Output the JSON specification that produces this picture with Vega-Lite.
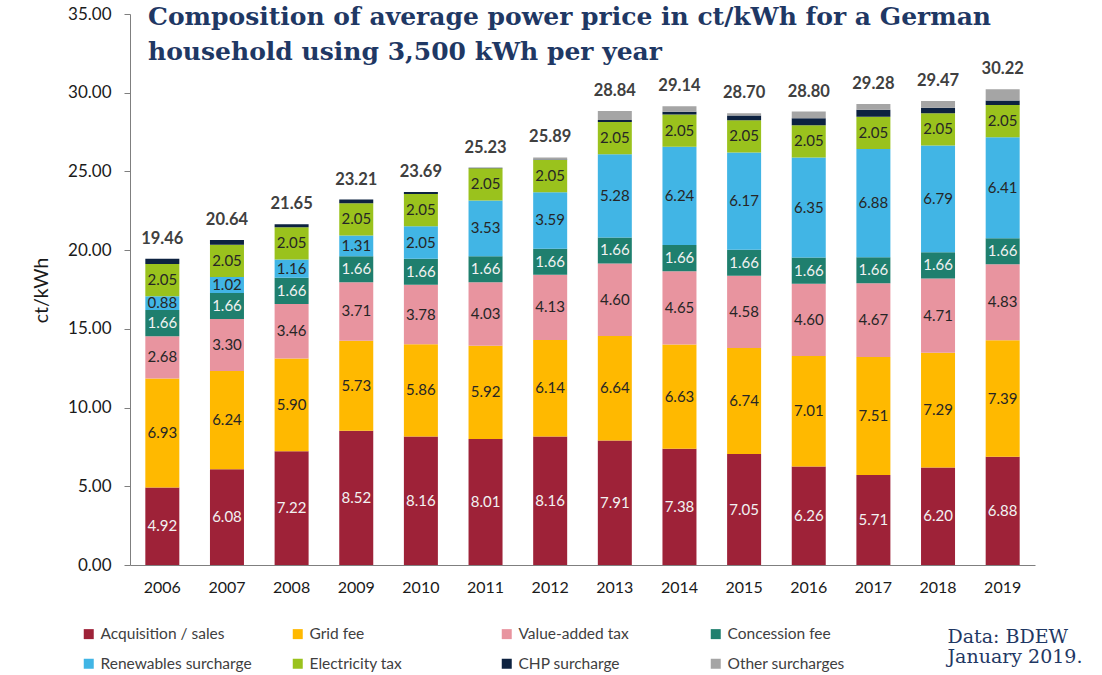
{
  "$schema": "https://vega.github.io/schema/vega-lite/v6.json",
  "width": 905,
  "height": 551,
  "autosize": {"type": "none"},
  "padding": {"left": 130, "top": 14, "right": 67, "bottom": 110},
  "background": "white",
  "config": {"view": {"stroke": null}},
  "title": {
    "text": ["Composition of average power price in ct/kWh for a German", "household using 3,500 kWh per year"],
    "anchor": "start",
    "frame": "group",
    "font": "DejaVu Serif",
    "fontSize": 25,
    "fontWeight": "bold",
    "color": "#1f3864",
    "lineHeight": 35,
    "baseline": "top",
    "offset": 0,
    "dx": 18,
    "dy": 60
  },
  "datasets": {
    "prices": [
      {"year": "2006", "category": "Acquisition / sales", "value": 4.92},
      {"year": "2006", "category": "Grid fee", "value": 6.93},
      {"year": "2006", "category": "Value-added tax", "value": 2.68},
      {"year": "2006", "category": "Concession fee", "value": 1.66},
      {"year": "2006", "category": "Renewables surcharge", "value": 0.88},
      {"year": "2006", "category": "Electricity tax", "value": 2.05},
      {"year": "2006", "category": "CHP surcharge", "value": 0.34},
      {"year": "2006", "category": "Other surcharges", "value": 0},
      {"year": "2007", "category": "Acquisition / sales", "value": 6.08},
      {"year": "2007", "category": "Grid fee", "value": 6.24},
      {"year": "2007", "category": "Value-added tax", "value": 3.30},
      {"year": "2007", "category": "Concession fee", "value": 1.66},
      {"year": "2007", "category": "Renewables surcharge", "value": 1.02},
      {"year": "2007", "category": "Electricity tax", "value": 2.05},
      {"year": "2007", "category": "CHP surcharge", "value": 0.29},
      {"year": "2007", "category": "Other surcharges", "value": 0},
      {"year": "2008", "category": "Acquisition / sales", "value": 7.22},
      {"year": "2008", "category": "Grid fee", "value": 5.90},
      {"year": "2008", "category": "Value-added tax", "value": 3.46},
      {"year": "2008", "category": "Concession fee", "value": 1.66},
      {"year": "2008", "category": "Renewables surcharge", "value": 1.16},
      {"year": "2008", "category": "Electricity tax", "value": 2.05},
      {"year": "2008", "category": "CHP surcharge", "value": 0.20},
      {"year": "2008", "category": "Other surcharges", "value": 0},
      {"year": "2009", "category": "Acquisition / sales", "value": 8.52},
      {"year": "2009", "category": "Grid fee", "value": 5.73},
      {"year": "2009", "category": "Value-added tax", "value": 3.71},
      {"year": "2009", "category": "Concession fee", "value": 1.66},
      {"year": "2009", "category": "Renewables surcharge", "value": 1.31},
      {"year": "2009", "category": "Electricity tax", "value": 2.05},
      {"year": "2009", "category": "CHP surcharge", "value": 0.23},
      {"year": "2009", "category": "Other surcharges", "value": 0},
      {"year": "2010", "category": "Acquisition / sales", "value": 8.16},
      {"year": "2010", "category": "Grid fee", "value": 5.86},
      {"year": "2010", "category": "Value-added tax", "value": 3.78},
      {"year": "2010", "category": "Concession fee", "value": 1.66},
      {"year": "2010", "category": "Renewables surcharge", "value": 2.05},
      {"year": "2010", "category": "Electricity tax", "value": 2.05},
      {"year": "2010", "category": "CHP surcharge", "value": 0.13},
      {"year": "2010", "category": "Other surcharges", "value": 0},
      {"year": "2011", "category": "Acquisition / sales", "value": 8.01},
      {"year": "2011", "category": "Grid fee", "value": 5.92},
      {"year": "2011", "category": "Value-added tax", "value": 4.03},
      {"year": "2011", "category": "Concession fee", "value": 1.66},
      {"year": "2011", "category": "Renewables surcharge", "value": 3.53},
      {"year": "2011", "category": "Electricity tax", "value": 2.05},
      {"year": "2011", "category": "CHP surcharge", "value": 0.03},
      {"year": "2011", "category": "Other surcharges", "value": 0},
      {"year": "2012", "category": "Acquisition / sales", "value": 8.16},
      {"year": "2012", "category": "Grid fee", "value": 6.14},
      {"year": "2012", "category": "Value-added tax", "value": 4.13},
      {"year": "2012", "category": "Concession fee", "value": 1.66},
      {"year": "2012", "category": "Renewables surcharge", "value": 3.59},
      {"year": "2012", "category": "Electricity tax", "value": 2.05},
      {"year": "2012", "category": "CHP surcharge", "value": 0.02},
      {"year": "2012", "category": "Other surcharges", "value": 0.14},
      {"year": "2013", "category": "Acquisition / sales", "value": 7.91},
      {"year": "2013", "category": "Grid fee", "value": 6.64},
      {"year": "2013", "category": "Value-added tax", "value": 4.60},
      {"year": "2013", "category": "Concession fee", "value": 1.66},
      {"year": "2013", "category": "Renewables surcharge", "value": 5.28},
      {"year": "2013", "category": "Electricity tax", "value": 2.05},
      {"year": "2013", "category": "CHP surcharge", "value": 0.13},
      {"year": "2013", "category": "Other surcharges", "value": 0.57},
      {"year": "2014", "category": "Acquisition / sales", "value": 7.38},
      {"year": "2014", "category": "Grid fee", "value": 6.63},
      {"year": "2014", "category": "Value-added tax", "value": 4.65},
      {"year": "2014", "category": "Concession fee", "value": 1.66},
      {"year": "2014", "category": "Renewables surcharge", "value": 6.24},
      {"year": "2014", "category": "Electricity tax", "value": 2.05},
      {"year": "2014", "category": "CHP surcharge", "value": 0.18},
      {"year": "2014", "category": "Other surcharges", "value": 0.35},
      {"year": "2015", "category": "Acquisition / sales", "value": 7.05},
      {"year": "2015", "category": "Grid fee", "value": 6.74},
      {"year": "2015", "category": "Value-added tax", "value": 4.58},
      {"year": "2015", "category": "Concession fee", "value": 1.66},
      {"year": "2015", "category": "Renewables surcharge", "value": 6.17},
      {"year": "2015", "category": "Electricity tax", "value": 2.05},
      {"year": "2015", "category": "CHP surcharge", "value": 0.30},
      {"year": "2015", "category": "Other surcharges", "value": 0.15},
      {"year": "2016", "category": "Acquisition / sales", "value": 6.26},
      {"year": "2016", "category": "Grid fee", "value": 7.01},
      {"year": "2016", "category": "Value-added tax", "value": 4.60},
      {"year": "2016", "category": "Concession fee", "value": 1.66},
      {"year": "2016", "category": "Renewables surcharge", "value": 6.35},
      {"year": "2016", "category": "Electricity tax", "value": 2.05},
      {"year": "2016", "category": "CHP surcharge", "value": 0.45},
      {"year": "2016", "category": "Other surcharges", "value": 0.42},
      {"year": "2017", "category": "Acquisition / sales", "value": 5.71},
      {"year": "2017", "category": "Grid fee", "value": 7.51},
      {"year": "2017", "category": "Value-added tax", "value": 4.67},
      {"year": "2017", "category": "Concession fee", "value": 1.66},
      {"year": "2017", "category": "Renewables surcharge", "value": 6.88},
      {"year": "2017", "category": "Electricity tax", "value": 2.05},
      {"year": "2017", "category": "CHP surcharge", "value": 0.44},
      {"year": "2017", "category": "Other surcharges", "value": 0.36},
      {"year": "2018", "category": "Acquisition / sales", "value": 6.20},
      {"year": "2018", "category": "Grid fee", "value": 7.29},
      {"year": "2018", "category": "Value-added tax", "value": 4.71},
      {"year": "2018", "category": "Concession fee", "value": 1.66},
      {"year": "2018", "category": "Renewables surcharge", "value": 6.79},
      {"year": "2018", "category": "Electricity tax", "value": 2.05},
      {"year": "2018", "category": "CHP surcharge", "value": 0.35},
      {"year": "2018", "category": "Other surcharges", "value": 0.42},
      {"year": "2019", "category": "Acquisition / sales", "value": 6.88},
      {"year": "2019", "category": "Grid fee", "value": 7.39},
      {"year": "2019", "category": "Value-added tax", "value": 4.83},
      {"year": "2019", "category": "Concession fee", "value": 1.66},
      {"year": "2019", "category": "Renewables surcharge", "value": 6.41},
      {"year": "2019", "category": "Electricity tax", "value": 2.05},
      {"year": "2019", "category": "CHP surcharge", "value": 0.28},
      {"year": "2019", "category": "Other surcharges", "value": 0.72}
    ]
  },
  "data": {"name": "prices"},
  "transform": [
    {"calculate": "indexof(['Acquisition / sales', 'Grid fee', 'Value-added tax', 'Concession fee', 'Renewables surcharge', 'Electricity tax', 'CHP surcharge', 'Other surcharges'], datum.category)", "as": "k"},
    {"stack": "value", "groupby": ["year"], "sort": [{"field": "k", "order": "ascending"}], "as": ["v0", "v1"]}
  ],
  "encoding": {
    "x": {
      "field": "year",
      "type": "ordinal",
      "scale": {"paddingInner": 0.474, "paddingOuter": 0.237},
      "axis": {
        "title": ["Data: BDEW", "January 2019."],
        "titleFont": "DejaVu Serif",
        "titleFontSize": 19,
        "titleFontWeight": "normal",
        "titleColor": "#1f3864",
        "titleAlign": "left",
        "titleAnchor": null,
        "titleBaseline": "top",
        "titleX": 817,
        "titleY": 62,
        "titleLineHeight": 20,
        "labelAngle": 0,
        "labelFont": "Lato",
        "labelFontSize": 16,
        "labelColor": "#1a1a1a",
        "labelPadding": 14,
        "ticks": false,
        "domainColor": "#7f7f7f"
      }
    }
  },
  "layer": [
    {
      "mark": {"type": "bar"},
      "encoding": {
        "y": {
          "field": "v0",
          "type": "quantitative",
          "scale": {"domain": [0, 35]},
          "axis": {
            "title": "ct/kWh",
            "values": [0, 5, 10, 15, 20, 25, 30, 35],
            "format": ".2f",
            "grid": false,
            "labelFont": "Lato",
            "labelFontSize": 17,
            "labelColor": "#1a1a1a",
            "labelPadding": 13,
            "tickSize": 6,
            "tickColor": "#7f7f7f",
            "domainColor": "#7f7f7f",
            "titleFont": "Lato",
            "titleFontSize": 19.5,
            "titleFontWeight": "normal",
            "titleColor": "#1a1a1a",
            "titleAngle": -90,
            "titleX": -89,
            "titleY": 276,
            "titleAlign": "center",
            "titleBaseline": "middle"
          }
        },
        "y2": {"field": "v1"},
        "color": {
          "field": "category",
          "type": "nominal",
          "sort": ["Acquisition / sales", "Grid fee", "Value-added tax", "Concession fee", "Renewables surcharge", "Electricity tax", "CHP surcharge", "Other surcharges"],
          "scale": {
            "domain": ["Acquisition / sales", "Grid fee", "Value-added tax", "Concession fee", "Renewables surcharge", "Electricity tax", "CHP surcharge", "Other surcharges"],
            "range": ["#9e2238", "#ffb900", "#e8949f", "#1f7f6e", "#41b5e5", "#9ac21d", "#0d2240", "#a5a5a5"]
          },
          "legend": {
            "title": null,
            "orient": "none",
            "legendX": -49,
            "legendY": 612,
            "direction": "horizontal",
            "columns": 4,
            "gridAlign": "all",
            "columnPadding": 38,
            "rowPadding": 13,
            "symbolType": "square",
            "symbolSize": 100,
            "symbolStrokeWidth": 0,
            "labelFont": "Lato",
            "labelFontSize": 15.5,
            "labelColor": "#404040",
            "labelOffset": 4
          }
        }
      }
    },
    {
      "transform": [
        {"filter": "datum.k < 6"},
        {"calculate": "(datum.v0 + datum.v1) / 2", "as": "mid"}
      ],
      "mark": {"type": "text", "font": "Lato", "fontSize": 15, "baseline": "middle"},
      "encoding": {
        "y": {"field": "mid", "type": "quantitative"},
        "text": {"field": "value", "type": "quantitative", "format": ".2f"},
        "color": {
          "condition": {"test": "datum.k == 0 || datum.k == 3", "value": "#f2f2f2"},
          "value": "#262626"
        }
      }
    },
    {
      "transform": [
        {"aggregate": [{"op": "sum", "field": "value", "as": "total"}], "groupby": ["year"]}
      ],
      "mark": {"type": "text", "font": "Lato", "fontSize": 16.5, "fontWeight": "bold", "color": "#404040", "baseline": "alphabetic", "dy": -15},
      "encoding": {
        "y": {"field": "total", "type": "quantitative"},
        "text": {"field": "total", "type": "quantitative", "format": ".2f"}
      }
    }
  ]
}
